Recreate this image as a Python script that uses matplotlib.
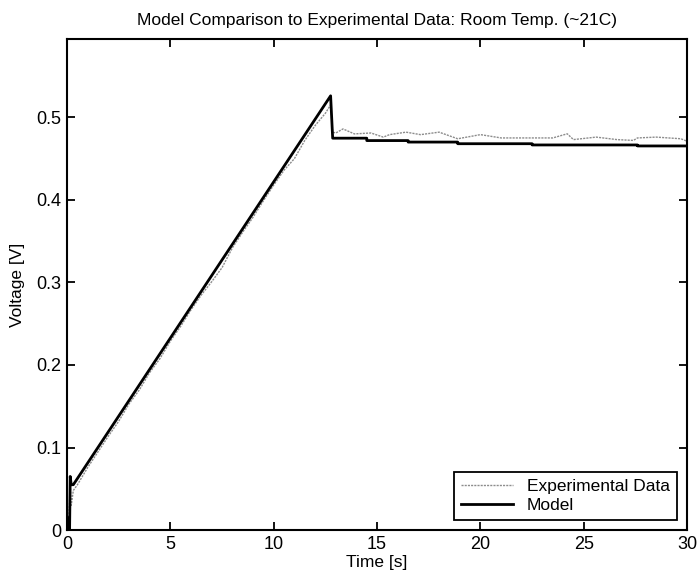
import matplotlib.pyplot as plt

plt.rcParams["font.family"] = ["Liberation Sans", "DejaVu Sans"]

# Model response (step-wise decay after the ramp)
model_t = [0.0, 0.12, 0.15, 0.2, 0.3, 12.75, 12.85, 14.5, 14.5, 16.5, 16.5,
           18.9, 18.9, 22.5, 22.5, 27.6, 27.6, 30.0]
model_v = [0.015, 0.0, 0.065, 0.055, 0.055, 0.526, 0.4747, 0.4747, 0.4718,
           0.4718, 0.4700, 0.4700, 0.4680, 0.4680, 0.4665, 0.4665, 0.4653, 0.4653]

# Measured voltage
exp_t = [0.0, 0.1, 0.15, 0.2, 0.3, 0.5, 1.0, 1.5, 2.0, 2.5, 3.0, 3.5, 4.0,
         4.5, 5.0, 5.5, 6.0, 6.5, 7.0, 7.5, 8.0, 8.5, 9.0, 9.5, 10.0, 10.5,
         11.0, 11.5, 12.0, 12.5, 12.75, 12.85, 13.0, 13.35, 13.9, 14.7, 15.3,
         15.6, 16.4, 17.1, 18.0, 18.9, 20.0, 21.0, 22.3, 23.5, 24.2, 24.5,
         25.6, 26.6, 27.4, 27.6, 28.5, 29.7, 30.0]
exp_v = [0.0, 0.02, 0.06, 0.03, 0.048, 0.055, 0.076, 0.095, 0.114, 0.132,
         0.153, 0.170, 0.191, 0.208, 0.229, 0.247, 0.267, 0.285, 0.301, 0.318,
         0.342, 0.361, 0.379, 0.399, 0.418, 0.436, 0.450, 0.472, 0.490, 0.505,
         0.515, 0.482, 0.481, 0.4859, 0.4799, 0.481, 0.476, 0.479, 0.482,
         0.479, 0.482, 0.474, 0.479, 0.475, 0.475, 0.475, 0.480, 0.473, 0.476,
         0.473, 0.472, 0.475, 0.476, 0.474, 0.471]

fig = plt.figure(figsize=(6.99, 5.8), dpi=100)
ax = fig.add_axes([0.096, 0.086, 0.887, 0.847])

ax.plot(exp_t, exp_v, color="0.55", lw=1.0, ls=(0, (1.5, 0.8)),
        label="Experimental Data")
ax.plot(model_t, model_v, color="black", lw=2.0, label="Model")

ax.set_xlim(0, 30)
ax.set_ylim(0, 0.595)
ax.set_xticks([0, 5, 10, 15, 20, 25, 30])
ax.set_yticks([0, 0.1, 0.2, 0.3, 0.4, 0.5])
ax.set_yticklabels(["0", "0.1", "0.2", "0.3", "0.4", "0.5"])
ax.tick_params(direction="in", length=6, width=1.3, top=True, right=True,
               labelsize=13, pad=4)
for s in ax.spines.values():
    s.set_linewidth(1.5)

ax.set_title("Model Comparison to Experimental Data: Room Temp. (~21C)",
             fontsize=12.5, pad=10)
ax.set_xlabel("Time [s]", fontsize=12.5, labelpad=2)
ax.set_ylabel("Voltage [V]", fontsize=12.5, labelpad=8)

leg = ax.legend(loc="lower right", fontsize=12.5, fancybox=False,
                edgecolor="black", framealpha=1, borderpad=0.4,
                handlelength=3, labelspacing=0.2, borderaxespad=0.6)
leg.get_frame().set_linewidth(1.3)

fig.savefig("out.png", dpi=100)
